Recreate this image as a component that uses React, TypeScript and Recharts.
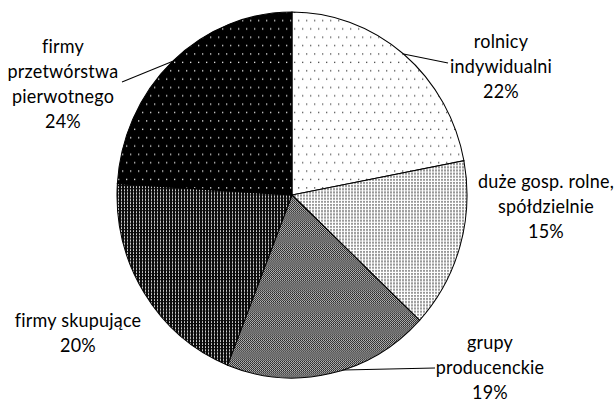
import { PieChart, Pie, Cell } from "recharts"

const categories = [
  "rolnicy\nindywidualni",
  "duże gosp. rolne,\nspółdzielnie",
  "grupy\nproducenckie",
  "firmy skupujące",
  "firmy\nprzetwórstwa\npierwotnego",
]
const shares = [22, 15, 19, 20, 24]
const fills = ["url(#p1)", "url(#p2)", "url(#p3)", "url(#p4)", "url(#p5)"]

// the original picture is slightly stretched vertically
const S = 1.0457
const W = 614
const H = 404 / S

// label placement in page px relative to pie centre: first baseline, optional leader end
const labelLayout: any[] = [
  { dx: 209, dy: -147, lead: [156, -132] },
  { dx: 254, dy: -7, lead: null },
  { dx: 198, dy: 154, lead: [143, 173], leadAngle: -73 },
  { dx: -214, dy: 132, lead: null },
  { dx: -229, dy: -142, lead: [-170, -113] },
]

const LINE_H = 25

const data = categories.map((c, i) => ({ name: c, value: shares[i] }))

function renderLabel(props: any) {
  const { cx, cy, midAngle, outerRadius, index, value } = props
  const lay = labelLayout[index]
  const lines = [...categories[index].split("\n"), value + "%"]
  const RAD = Math.PI / 180
  const a = lay.leadAngle ?? midAngle
  const ex = cx + outerRadius * Math.cos(-a * RAD)
  const ey = cy + outerRadius * Math.sin(-a * RAD)
  return (
    <g key={"l" + index}>
      {lay.lead && (
        <polyline
          points={`${ex},${ey} ${cx + lay.lead[0]},${cy + lay.lead[1] / S}`}
          stroke="#000"
          strokeWidth={1}
          fill="none"
        />
      )}
      {lines.map((t, j) => (
        <text
          key={j}
          x={cx + lay.dx}
          y={cy + (lay.dy + j * LINE_H) / S}
          textAnchor="middle"
          fontFamily="Lato, sans-serif"
          fontSize={18}
          letterSpacing={0.2}
          fill="#000"
        >
          {t}
        </text>
      ))}
    </g>
  )
}

export default function App() {
  return (
    <div style={{ position: "absolute", left: 0, top: 0, width: 614, height: 404, background: "#fff", overflow: "hidden" }}>
      <div style={{ transform: `scaleY(${S})`, transformOrigin: "0 0", width: W, height: H }}>
        <PieChart width={W} height={H} margin={{ top: 0, right: 0, bottom: 0, left: 0 }}>
          <defs>
            <pattern id="p1" width={8} height={16} patternUnits="userSpaceOnUse">
              <rect width={8} height={16} fill="#fff" />
              <rect x={2} y={3} width={1.3} height={1.3} fill="#555" />
              <rect x={6} y={11} width={1.3} height={1.3} fill="#555" />
            </pattern>
            <pattern id="p2" width={3} height={3} patternUnits="userSpaceOnUse">
              <rect width={3} height={3} fill="#fff" />
              <rect width={2} height={2} fill="#999" />
            </pattern>
            <pattern id="p3" width={2} height={2} patternUnits="userSpaceOnUse">
              <rect width={2} height={2} fill="#222" />
              <rect width={1} height={1} fill="#bbb" />
              <rect x={1} y={1} width={1} height={1} fill="#bbb" />
            </pattern>
            <pattern id="p4" width={3} height={3} patternUnits="userSpaceOnUse">
              <rect width={3} height={3} fill="#0a0a0a" />
              <rect x={1} y={1} width={1} height={2} fill="#ccc" />
            </pattern>
            <pattern id="p5" width={8} height={16} patternUnits="userSpaceOnUse">
              <rect width={8} height={16} fill="#000" />
              <rect x={2} y={3} width={1.3} height={1.3} fill="#ddd" />
              <rect x={6} y={11} width={1.3} height={1.3} fill="#ddd" />
            </pattern>
          </defs>
          <Pie
            data={data}
            dataKey="value"
            cx={292}
            cy={195 / S}
            outerRadius={175}
            startAngle={90}
            endAngle={-270}
            stroke="#000"
            strokeWidth={1}
            label={renderLabel}
            labelLine={false}
            isAnimationActive={false}
          >
            {data.map((d, i) => (
              <Cell key={d.name} fill={fills[i]} />
            ))}
          </Pie>
        </PieChart>
      </div>
    </div>
  )
}
